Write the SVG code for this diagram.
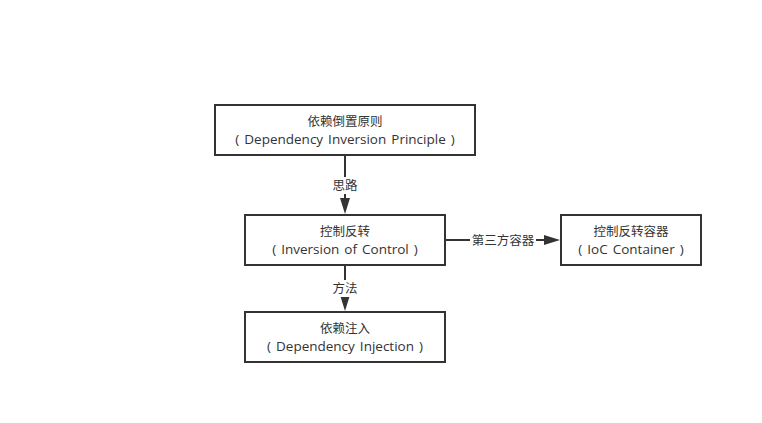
<svg xmlns="http://www.w3.org/2000/svg" width="762" height="423" viewBox="0 0 762 423">
<defs>
<style>
.box{fill:#fff;stroke:#333;stroke-width:2}
.t{font-family:"Open Sans","Noto Sans CJK SC","Liberation Sans",sans-serif;font-size:12.5px;fill:#333;text-anchor:middle}
.en{font-size:13.5px;word-spacing:1.5px}
.line{stroke:#333;stroke-width:2;fill:none}
.head{fill:#333}
.lbl{fill:#fff}
</style>
</defs>
<rect width="762" height="423" fill="#fff"/>
<g id="connectors">
<line class="line" x1="345" y1="155" x2="345" y2="200"/>
<polygon class="head" points="340,198 350,198 345,214"/>
<rect class="lbl" x="330" y="177" width="30" height="17"/>
<text class="t" x="345" y="190">思路</text>
<line class="line" x1="345" y1="265" x2="345" y2="298"/>
<polygon class="head" points="340,295 350,295 345,311"/>
<rect class="lbl" x="330" y="280" width="30" height="17"/>
<text class="t" x="345" y="293">方法</text>
<line class="line" x1="445" y1="240" x2="548" y2="240"/>
<polygon class="head" points="544,235 544,245 560,240"/>
<rect class="lbl" x="470" y="232" width="66" height="17"/>
<text class="t" x="503" y="245">第三方容器</text>
</g>
<g id="dip">
<rect class="box" x="215" y="105" width="260" height="50"/>
<text class="t" x="345" y="126">依赖倒置原则</text>
<text class="t en" x="345" y="144">( Dependency Inversion Principle )</text>
</g>
<g id="ioc">
<rect class="box" x="245" y="215" width="200" height="50"/>
<text class="t" x="345" y="236">控制反转</text>
<text class="t en" x="345" y="254">( Inversion of Control )</text>
</g>
<g id="di">
<rect class="box" x="245" y="312" width="200" height="50"/>
<text class="t" x="345" y="333">依赖注入</text>
<text class="t en" x="345" y="351">( Dependency Injection )</text>
</g>
<g id="container">
<rect class="box" x="561" y="215" width="140" height="50"/>
<text class="t" x="631" y="236">控制反转容器</text>
<text class="t en" x="631" y="254">( IoC Container )</text>
</g>
</svg>
